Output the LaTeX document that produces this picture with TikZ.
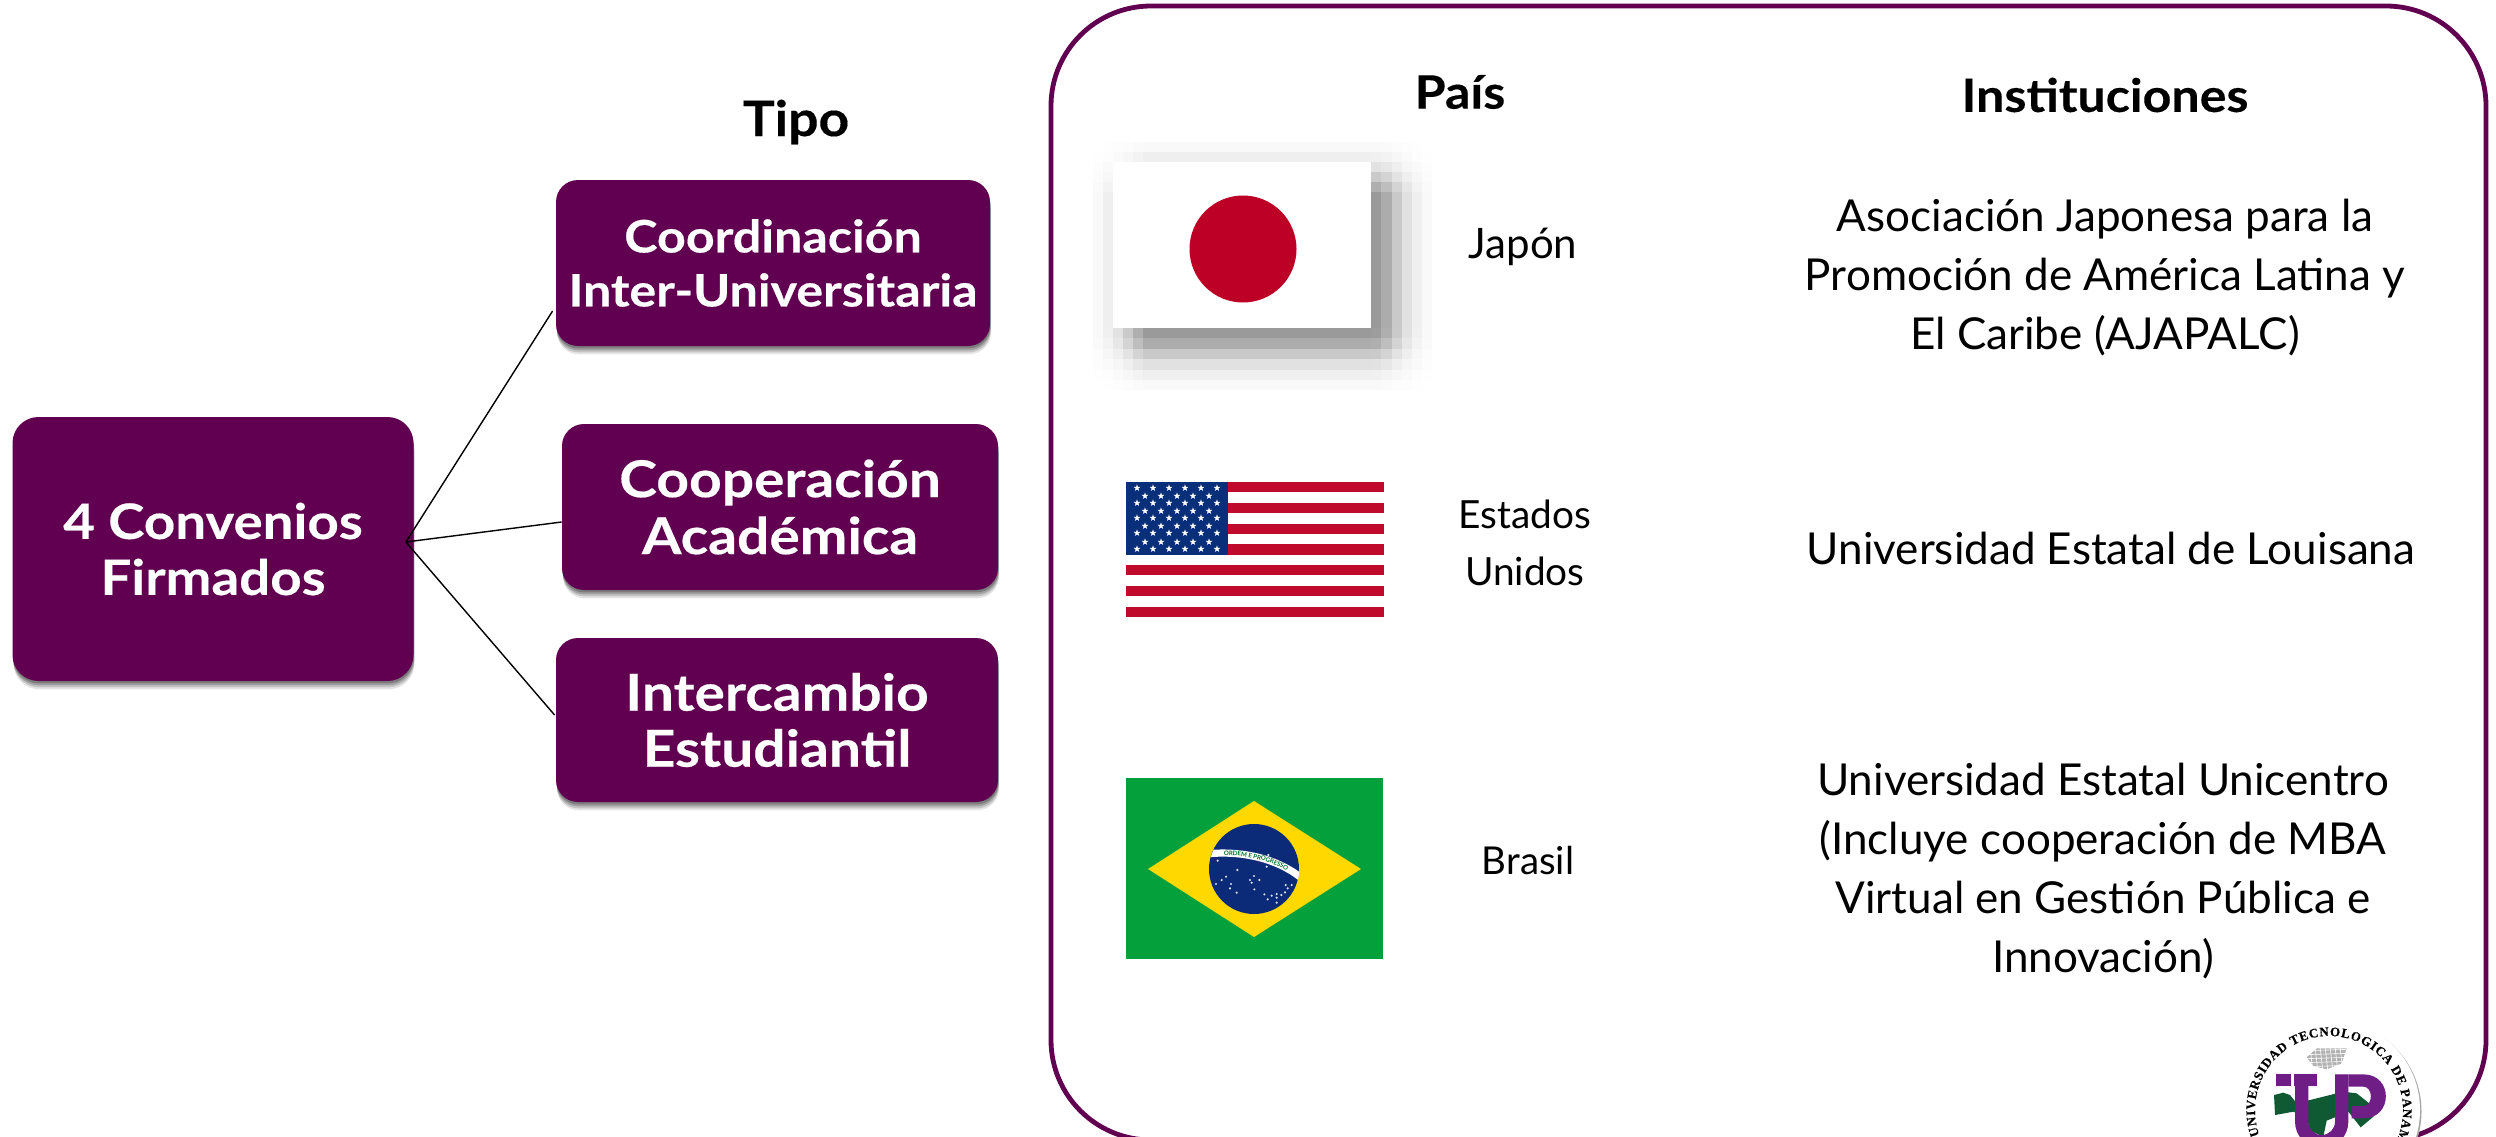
\documentclass[tikz,border=0pt]{standalone}
\usepackage{fontspec}
\setmainfont{Lato}
\newfontfamily\boxfont{Lato}[BoldFeatures={FakeStretch=1.12,FakeBold=.35}]
\newfontfamily\headfont{Lato}[BoldFeatures={FakeStretch=1.09,FakeBold=.25}]
\newfontfamily\logofont{Liberation Serif}[FontFace={b}{n}{Liberation Serif Bold},BoldFeatures={FakeBold=.5}]
\usetikzlibrary{calc,decorations.text}
\definecolor{upurple}{HTML}{610051}
\definecolor{jpred}{HTML}{BC0026}
\definecolor{usred}{HTML}{C00A2C}
\definecolor{usblue}{HTML}{0A2F7A}
\definecolor{brgreen}{HTML}{04A03C}
\definecolor{bryellow}{HTML}{FFD800}
\definecolor{brblue}{HTML}{0B2A78}
\definecolor{logogreen}{HTML}{0F5A32}
\definecolor{logopurple}{HTML}{6F1E85}
\tikzset{
  softedge/.style={
    preaction={fill=black,fill opacity=.10,transform canvas={xshift=.5pt,yshift=-4.2pt}},
    preaction={fill=black,fill opacity=.14,transform canvas={xshift=.4pt,yshift=-3.2pt}},
    preaction={fill=black,fill opacity=.18,transform canvas={xshift=.3pt,yshift=-2.2pt}},
    preaction={fill=black,fill opacity=.22,transform canvas={xshift=.2pt,yshift=-1.2pt}}},
  purplebox/.style={rectangle,softedge,fill=upurple,text=white,align=center,inner sep=0pt,
    rounded corners=11pt},
  heading/.style={inner sep=0pt,font=\headfont\fontsize{23}{27}\selectfont\bfseries},
  countrytext/.style={inner sep=0pt,align=center},
  insttext/.style={inner sep=0pt,align=center,font=\fontsize{22}{29.5}\selectfont},
  link/.style={black,line width=.7pt},
  ustar/.pic={\fill[white] (0,-3.6)--(.85,-1.15)--(3.4,-1.1)--(1.35,.45)--(2.1,2.9)--(0,1.4)--(-2.1,2.9)--(-1.35,.45)--(-3.4,-1.1)--(-.85,-1.15)--cycle;}
}
\begin{document}
\begin{tikzpicture}[x=.5pt,y=-.5pt]
\clip (0,0) rectangle (2496,1136);
\fill[white] (0,0) rectangle (2496,1136);

% frame
\draw[upurple,line width=2.4pt,rounded corners=50pt] (1051,6) rectangle (2486,1140);

% boxes
\node[purplebox,rounded corners=13pt,minimum width=200.5pt,minimum height=132pt,font=\boxfont\fontsize{24.4}{28}\selectfont\bfseries] (root) at (213,549) {4 Convenios\\Firmados};
\node[purplebox,minimum width=217pt,minimum height=83pt,font=\boxfont\fontsize{22.4}{27}\selectfont\bfseries] (b1) at (773,263) {Coordinación\\Inter-Universitaria};
\node[purplebox,minimum width=218pt,minimum height=83pt,font=\boxfont\fontsize{25.4}{28.5}\selectfont\bfseries] (b2) at (780,507) {Cooperación\\Académica};
\node[purplebox,minimum width=221pt,minimum height=82pt,font=\boxfont\fontsize{25.4}{28}\selectfont\bfseries] (b3) at (777,720) {Intercambio\\Estudiantil};

% connectors
\coordinate (hub) at ($(root.east)+(-8,-7)$);
\coordinate (b1in) at ($(b1.west)+(-3,48)$);
\coordinate (b2in) at ($(b2.west)+(0,15)$);
\coordinate (b3in) at ($(b3.west)+(-1,-5)$);
\draw[link] (hub) -- (b1in);
\draw[link] (hub) -- (b2in);
\draw[link] (hub) -- (b3in);

% headings
\node[heading,font=\headfont\fontsize{24.5}{27}\selectfont\bfseries] (tipo) at (796,122) {Tipo};
\node[heading] (pais) at (1460,92) {País};
\node[heading] (inst) at (2105,95) {Instituciones};

% Japan flag: stepped soft shadow
\foreach \xa/\xb/\ax in {1093/1103/.06,1103/1113/.15,1113/1123/.29,1123/1133/.52,1133/1143/.79,1143/1371/1,1371/1381/.97,1381/1392/.79,1392/1402/.52,1402/1412/.29,1412/1422/.15,1422/1432/.06}{
  \foreach \ya/\yb/\ay in {142/152/.06,152/162/.15,162/172/.29,172/182/.52,182/192/.79,192/328/1,328/338/.97,338/349/.79,349/359/.52,359/370/.29,370/380/.15,380/390/.06}{
    \pgfmathsetmacro\pct{41*\ax*\ay}
    \fill[black!\pct!white] (\xa,\ya) rectangle (\xb+.4,\yb+.4);
  }
}
\fill[white] (1113,162) rectangle (1371,328);
\fill[jpred] (1243,249) circle[radius=53.5];

% USA flag
\fill[white] (1126,482) rectangle (1384,617);
\foreach \k in {0,2,...,12}{
  \fill[usred] (1126,{482+\k*10.385}) rectangle (1384,{482+(\k+1)*10.385});
}
\fill[usblue] (1126,482) rectangle (1228,554.5);
\foreach \yy in {488,503,518,533,549}{
  \foreach \xx in {1137,1153,1169,1185,1201,1217}{ \pic at (\xx,\yy) {ustar}; }
}
\foreach \yy in {496,511,526,542}{
  \foreach \xx in {1145,1161,1177,1193,1209}{ \pic at (\xx,\yy) {ustar}; }
}

% Brazil flag
\fill[brgreen] (1126,778) rectangle (1383,959);
\fill[bryellow] (1148,869) -- (1254,801) -- (1361,869) -- (1254,937) -- cycle;
\fill[brblue] (1254,869) circle[radius=45];
\begin{scope}[shift={(1110,760)},x=.1666667pt,y=-.1666667pt]
  \begin{scope}
    \clip (433,326) circle[radius=135];
    \draw[white,line width=3.6pt] (296,281) .. controls (400,272) and (500,296) .. (572,352);
    \path[decorate,decoration={text along path,text align=center,raise=-1.1pt,
      text={|\fontsize{3.1}{3.5}\selectfont\bfseries\color{brgreen!70!black}|ORDEM E PROGRESSO}}]
      (300,281) .. controls (400,272) and (500,296) .. (568,349);
  \end{scope}
  \foreach \dx/\dy in {323/302,382/330,335/360,348/350,318/372,363/372,360/385,380/398,420/360,432/348,448/360,425/368,433/388,463/403,473/418,485/407,500/402,500/413,514/405,525/397,533/385,527/375,545/375,500/428,470/320,475/285}{
    \fill[white!85!brblue] (\dx,\dy) circle[radius=3.6];
  }
\end{scope}

% country names
\node[countrytext,font=\fontsize{21}{22}\selectfont] (jp) at (1523,247) {Japón};
\node[countrytext,font=\fontsize{19.4}{28.5}\selectfont] (us) at (1525,543) {Estados\\Unidos};
\node[countrytext,font=\fontsize{19.2}{20}\selectfont] (br) at (1528,860) {Brasil};

% institutions
\node[insttext] (i1) at (2105,278) {Asociación Japonesa para la\\Promoción de América Latina y\\El Caribe (AJAPALC)};
\node[insttext] (i2) at (2111,548) {Universidad Estatal de Louisana};
\node[insttext] (i3) at (2103,871) {Universidad Estatal Unicentro\\(Incluye cooperación de MBA\\Virtual en Gestión Pública e\\Innovación)};

% university seal
\coordinate (seal) at (2329,1110);
\fill[black!35] ($(seal)+(1.5,1.5)$) circle[radius=91];
\fill[white] (seal) circle[radius=91];
\path[decorate,decoration={text along path,text align={fit to path},
   text={|\fontsize{6.5}{8}\selectfont\logofont\bfseries|UNIVERSIDAD TECNOLOGICA DE PANAMA}}]
   ($(seal)+(160:74)$) arc[start angle=160,end angle=392,radius=74];
\begin{scope}[shift={(2150,980)},x=.1666667pt,y=-.1666667pt]
  % open book
  \fill[black!30] (470,232) -- (500,205) -- (590,205) -- (575,250) -- (530,268) -- (490,258) -- cycle;
  \foreach \bx in {480,495,...,570}{ \draw[white,line width=.3pt] (\bx,200) -- (\bx+8,270); }
  \foreach \by in {212,224,...,260}{ \draw[white,line width=.3pt] (465,\by) -- (595,\by-4); }
  % isthmus
  \fill[logogreen] (372,345) -- (400,338) -- (420,345) -- (440,370) -- (480,360) -- (540,345) -- (580,335) -- (620,340) -- (660,372) -- (670,410) -- (632,442) -- (595,395) -- (530,422) -- (520,470) -- (480,452) -- (470,412) -- (430,395) -- (375,405) -- cycle;
  % letters
  \fill[logopurple] (378,283) rectangle (422,318);
  \fill[logopurple] (432,283) rectangle (500,318);
  \fill[logopurple] (435,283) -- (475,283) -- (475,425) arc[start angle=180,end angle=0,radius=40] -- (555,283) -- (595,283) -- (595,425) arc[start angle=0,end angle=180,radius=80] -- cycle;
  \fill[logopurple] (555,283) -- (640,283) .. controls (730,283) and (730,415) .. (640,415) -- (605,415) -- (605,378) -- (640,378) .. controls (670,378) and (670,320) .. (640,320) -- (595,320) -- (595,283) -- cycle;
\end{scope}

\end{tikzpicture}
\end{document}
